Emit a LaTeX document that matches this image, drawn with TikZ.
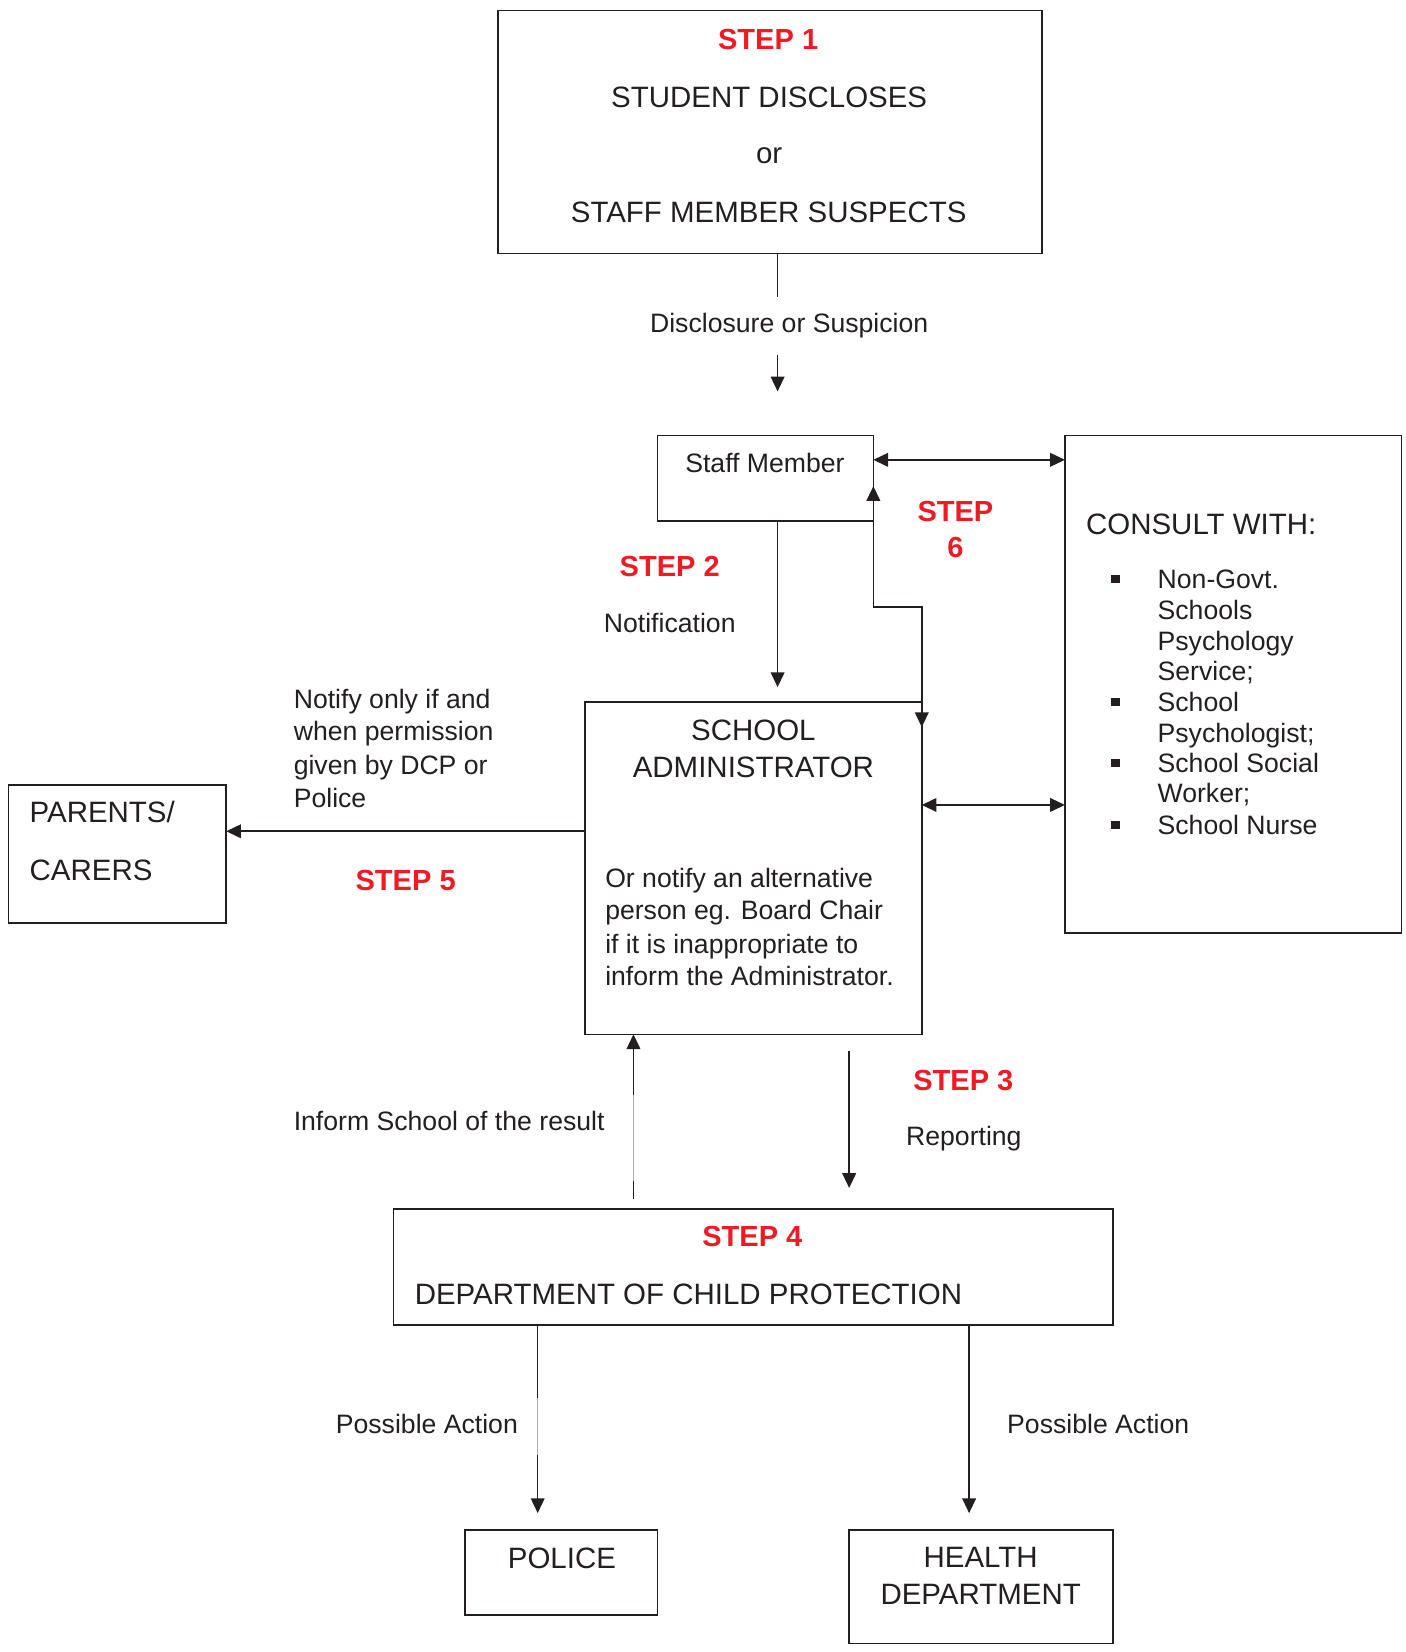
\documentclass[tikz,border=0pt]{standalone}
\usepackage{fontspec}
\setmainfont{Liberation Sans}
\usetikzlibrary{arrows.meta}
\definecolor{ink}{HTML}{231F20}
\definecolor{stepred}{HTML}{ED1C24}
\begin{document}
\begin{tikzpicture}[x=1pt,y=-1pt,
  box/.style={draw=ink, line width=1.6pt, inner sep=0pt, outer sep=0pt, anchor=north west},
  txt/.style={font=\fontsize{25.3pt}{30pt}\selectfont, text=ink, inner sep=0pt, anchor=base},
  txtl/.style={txt, anchor=base west},
  bigtxt/.style={font=\fontsize{28pt}{33pt}\selectfont, text=ink, inner sep=0pt, anchor=base},
  bigtxtl/.style={bigtxt, anchor=base west},
  steptxt/.style={font=\fontsize{27.6pt}{33pt}\selectfont\bfseries, text=stepred, inner sep=0pt, anchor=base},
  conn/.style={draw=ink, line width=1.5pt},
  arr/.style={conn, -{Triangle[length=14pt,width=13pt]}},
  dbl/.style={conn, {Triangle[length=14pt,width=13pt]}-{Triangle[length=14pt,width=13pt]}},
  faint/.style={draw=ink!35, line width=0.5pt},
  bul/.style={fill=ink, inner sep=0pt, minimum size=8pt}
]
\useasboundingbox (0,0) rectangle (1336,1570);

% ---------- boxes ----------
\node[box, minimum width=517pt, minimum height=231pt] (top) at (473,10) {};
\node[box, minimum width=205pt, minimum height=81pt] (staff) at (625,414) {};
\node[box, minimum width=320pt, minimum height=473pt] (consult) at (1012,414) {};
\node[box, minimum width=320pt, minimum height=316pt] (admin) at (556,667) {};
\node[box, minimum width=207pt, minimum height=131pt] (parents) at (8,746) {};
\node[box, minimum width=684pt, minimum height=110pt] (dcp) at (374,1149) {};
\node[box, minimum width=183pt, minimum height=81pt] (police) at (442,1454) {};
\node[box, minimum width=251pt, minimum height=108pt] (health) at (807,1454) {};

% ---------- texts: top box ----------
\node[steptxt] (s1) at (730,47) {STEP 1};
\node[bigtxt] (t1) at (731,102) {STUDENT DISCLOSES};
\node[bigtxt] (t2) at (731,155) {or};
\node[bigtxt] (t3) at (730.5,211) {STAFF MEMBER SUSPECTS};
\node[txt] (lds) at (750,316) {Disclosure or Suspicion};

% staff member
\node[txt] (tsm) at (727,449) {Staff Member};
\node[steptxt] (s2) at (636.5,548) {STEP 2};
\node[txt] (lnot) at (636.5,601) {Notification};
\node[steptxt] (s6a) at (908,496) {STEP};
\node[steptxt] (s6b) at (908,530) {6};

% consult
\node[bigtxtl] (tcw) at (1032,508) {CONSULT WITH:};
\node[txtl] (c1) at (1100,559) {Non-Govt.};
\node[txtl] (c2) at (1100,589) {Schools};
\node[txtl] (c3) at (1100,618) {Psychology};
\node[txtl] (c4) at (1100,647) {Service;};
\node[txtl] (c5) at (1100,676) {School};
\node[txtl] (c6) at (1100,706) {Psychologist;};
\node[txtl] (c7) at (1100,734) {School Social};
\node[txtl] (c8) at (1100,763) {Worker;};
\node[txtl] (c9) at (1100,793) {School Nurse};
\node[bul] (b1) at (1060,550) {};
\node[bul] (b2) at (1060,667) {};
\node[bul] (b3) at (1060,725) {};
\node[bul] (b4) at (1060,784) {};

% notify text
\node[txtl] (n1) at (279,673) {Notify only if and};
\node[txtl] (n2) at (279,704) {when permission};
\node[txtl] (n3) at (279,736) {given by DCP or};
\node[txtl] (n4) at (279,767) {Police};

% admin
\node[bigtxt] (a1) at (716,704) {SCHOOL};
\node[bigtxt] (a2) at (716,739) {ADMINISTRATOR};
\node[txtl] (a3) at (575,843) {Or notify an alternative};
\node[txtl] (a4) at (575,874) {person eg. Board Chair};
\node[txtl] (a5) at (575,906) {if it is inappropriate to};
\node[txtl] (a6) at (575,937) {inform the Administrator.};

% parents
\node[bigtxtl] (p1) at (28,782) {PARENTS/};
\node[bigtxtl] (p2) at (28,837) {CARERS};
\node[steptxt] (s5) at (385.5,846) {STEP 5};

% step 3 / inform
\node[steptxt] (s3) at (915.5,1036) {STEP 3};
\node[txt] (lrep) at (916,1089) {Reporting};
\node[txtl] (linf) at (279,1074) {Inform School of the result};

% dcp
\node[steptxt] (s4) at (715,1185) {STEP 4};
\node[bigtxtl] (tdcp) at (394,1240) {DEPARTMENT OF CHILD PROTECTION};
\node[txtl] (lpa1) at (319,1362) {Possible Action};
\node[txtl] (lpa2) at (957,1362) {Possible Action};

% police / health
\node[bigtxt] (tpol) at (534,1491) {POLICE};
\node[bigtxt] (th1) at (932,1490) {HEALTH};
\node[bigtxt] (th2) at (932,1525) {DEPARTMENT};

% ---------- connectors ----------
% step 1 -> staff member
\coordinate (d1) at (739,282);
\coordinate (d2) at (739,337);
\coordinate (d3) at (739,372);
\draw[conn] (d1 |- top.south) -- (d1);
\draw[arr] (d2) -- (d3);

% staff -> admin
\coordinate (e1) at (739,653);
\draw[arr] (e1 |- staff.south) -- (e1);

% staff <-> consult
\coordinate (y436) at (0,437);
\draw[dbl] (staff.east |- y436) -- (consult.west |- y436);

% step 6 loop
\coordinate (q1) at (830,462);
\coordinate (q2) at (876,577);
\coordinate (q3) at (876,691);
\draw[dbl] (q1) |- (q2) -- (q3);

% admin <-> consult
\coordinate (y764) at (0,765);
\draw[dbl] (admin.east |- y764) -- (consult.west |- y764);

% admin -> parents
\coordinate (y789) at (0,790);
\draw[arr] (admin.west |- y789) -- (parents.east |- y789);

% admin -> dcp (reporting)
\coordinate (r1) at (807,999);
\coordinate (r2) at (807,1129);
\draw[arr] (r1) -- (r2);

% dcp -> admin (inform)
\coordinate (i1) at (602,1139);
\coordinate (i2) at (602,1122);
\coordinate (i3) at (602,1041);
\draw[conn] (i1) -- (i2);
\draw[faint] (i2) -- (i3);
\draw[arr] (i3) -- (i3 |- admin.south);

% dcp -> police
\coordinate (pl1) at (511,1329);
\coordinate (pl2) at (511,1383);
\coordinate (pl3) at (511,1438);
\draw[conn] (pl1 |- dcp.south) -- (pl1);
\draw[faint] (pl1) -- (pl2);
\draw[arr] (pl2) -- (pl3);

% dcp -> health
\coordinate (h1) at (921,1438);
\draw[arr] (h1 |- dcp.south) -- (h1);
\end{tikzpicture}
\end{document}
